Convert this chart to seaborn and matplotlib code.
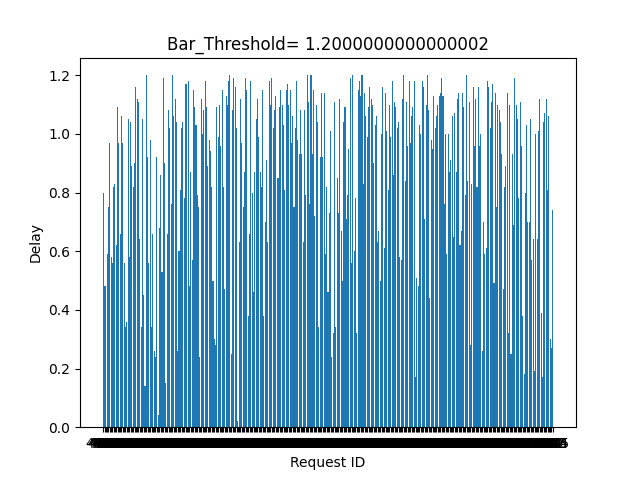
import numpy as np
import pandas as pd
import seaborn as sns
import matplotlib
matplotlib.use("Agg")
import matplotlib.pyplot as plt

# --- DATA (left to right) ---
delays = [
    0.80, 0.48, 0.48, 0.59, 0.75, 0.97, 0.58, 0.56, 0.82, 0.83, 0.62, 1.09, 0.97, 0.66, 1.06, 0.97,
    0.56, 0.34, 0.36, 1.05, 0.58, 1.04, 0.89, 0.82, 0.90, 1.16, 1.12, 1.11, 0.64, 0.34, 1.05, 0.45,
    0.14, 1.20, 0.92, 0.56, 0.98, 0.34, 0.66, 0.26, 0.24, 0.92, 0.04, 0.68, 0.86, 0.53, 1.19, 0.90,
    0.15, 0.66, 1.08, 1.02, 0.76, 1.20, 1.06, 1.12, 1.04, 0.26, 0.60, 0.81, 1.02, 1.04, 0.78, 1.17,
    1.17, 1.18, 0.48, 0.87, 0.57, 1.15, 1.09, 1.03, 0.79, 0.75, 0.24, 1.12, 1.00, 1.08, 1.18, 1.09,
    0.89, 0.98, 0.94, 0.82, 0.50, 0.30,
    0.28, 1.09, 0.99, 1.10, 0.96, 1.15, 0.82, 0.47, 1.13, 1.10, 1.18, 1.20, 0.25, 1.08, 1.19, 1.16,
    1.02, 0.02, 0.63, 1.12, 0.97, 0.75, 0.87, 1.19, 1.15, 0.38, 0.66, 1.18, 0.80, 0.46, 0.87, 1.05,
    1.12, 0.99, 0.87, 0.82, 1.15, 0.38, 0.70, 0.91, 0.63, 1.18, 1.10, 1.19, 1.02, 1.08, 1.13, 0.85,
    0.85, 1.09, 1.15, 1.10, 1.03, 0.81, 1.15, 1.17, 1.10, 1.15, 0.97, 1.06, 0.75, 1.02, 1.18, 0.98,
    0.93, 1.08, 0.93, 0.63, 1.08, 0.79, 1.20, 1.11, 0.76, 1.20, 0.93, 1.15, 0.72, 1.10, 1.04, 0.34,
    0.92, 1.14,
    0.92, 1.14, 0.59, 0.82, 0.46, 0.73, 1.01, 0.24, 0.32, 1.11, 0.34, 0.85, 0.73, 1.12, 0.67, 0.50,
    1.04, 1.09, 0.71, 0.79, 0.95, 1.19, 0.56, 1.20, 0.60, 0.78, 0.32, 1.15, 1.18, 1.13, 1.20, 0.83,
    1.14, 1.06, 0.99, 1.09, 1.16, 1.12, 1.10, 0.90, 1.03, 1.06, 0.63, 0.67, 0.50, 1.00, 1.16, 0.61,
    1.14, 1.01, 0.81, 1.10, 0.99, 1.18, 0.86, 1.11, 1.09, 1.02, 1.04, 0.58, 0.57, 1.12, 1.20, 0.84,
    1.11, 0.96, 1.18, 0.97, 1.06, 1.09, 1.18, 0.17, 0.51, 0.48, 1.03, 1.00, 1.18, 1.16, 0.71, 1.10,
    1.20, 1.08, 0.44, 0.98, 0.95, 1.13, 1.02, 1.06, 1.10, 1.13, 1.14,
    1.19, 1.13, 0.76, 1.00, 0.59, 1.00, 0.87, 0.91, 1.06, 0.65, 1.07, 0.87, 1.12, 1.14, 0.62, 0.67,
    1.14, 1.09, 0.79, 1.20, 0.84, 1.11, 0.28, 0.83, 1.16, 0.96, 1.12, 0.82, 1.16, 0.96, 1.00, 0.26,
    0.70, 0.59, 0.61, 1.18, 1.16, 1.02, 1.11, 1.17, 0.49, 1.14, 0.75, 1.10, 1.08, 1.04, 0.93, 0.47,
    0.82, 0.89, 1.14, 0.32, 1.10, 0.25, 0.93, 0.69, 1.19, 1.10, 1.05, 0.78, 1.11, 0.96, 0.38, 0.18,
    0.80, 1.03, 0.70, 0.70, 1.05, 0.57, 0.64, 0.19, 1.00, 0.64, 1.01, 1.12, 0.39, 0.17, 1.04, 1.07,
    1.12, 0.81, 1.06, 0.30, 0.27, 0.74,
]
request_ids = [str(4801 + i) for i in range(len(delays))]
threshold = 1.2000000000000002

df = pd.DataFrame({"Request ID": request_ids, "Delay": delays})

fig, ax = plt.subplots(figsize=(6.4, 4.8), dpi=100)
sns.barplot(data=df, x="Request ID", y="Delay", color="#1f77b4", saturation=1,
            width=0.8, errorbar=None, ax=ax)

n = len(delays)
pad = 0.05 * n
ax.set_xlim(-0.5 - pad, n - 0.5 + pad)
ax.set_ylim(0, 1.26)
ax.set_title(f"Bar_Threshold= {threshold}")
ax.set_xlabel("Request ID")
ax.set_ylabel("Delay")

plt.savefig("out.png")
